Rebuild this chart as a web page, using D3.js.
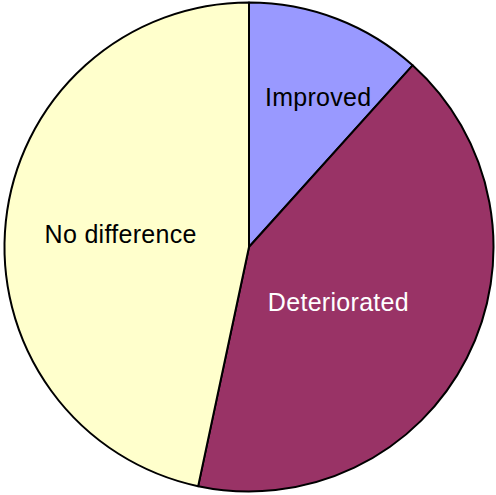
<!DOCTYPE html>
<html>
<head>
<meta charset="utf-8">
<script src="https://cdn.jsdelivr.net/npm/d3@7"></script>
<style>
  html, body { margin: 0; padding: 0; background: #fff; }
</style>
</head>
<body>
<svg id="visu" width="496" height="495"></svg>
<script>
// slice data, clockwise from 12 o'clock
var categories = ["Improved", "Deteriorated", "No difference"];
var values = [7, 25, 28];
var colors = ["#9999FF", "#993366", "#FFFFCC"];
var labelColors = ["#000000", "#FFFFFF", "#000000"];

var vis = d3.select("#visu"),
    CX = 249,
    CY = 247,
    RADIUS = 244.5;

// where each label sits: distance from centre, and a small angle nudge (deg)
var labelDist = [165, 105, 129],
    labelNudge = [3.8, 4.6, -0.2];

var pie = d3.pie()
  .sort(null)
  .value(function(d) { return d; });

var arcGen = d3.arc()
  .innerRadius(0)
  .outerRadius(RADIUS);

var slices = pie(values);

var g = vis.append("g")
  .attr("transform", "translate(" + CX + "," + CY + ")");

g.selectAll("path")
  .data(slices)
  .enter().append("path")
  .attr("d", arcGen)
  .attr("fill", function(d, i) { return colors[i]; })
  .attr("stroke", "#000")
  .attr("stroke-width", 2)
  .attr("stroke-linejoin", "round");

g.selectAll("text")
  .data(slices)
  .enter().append("text")
  .attr("x", function(d, i) {
    var a = (d.startAngle + d.endAngle) / 2 + labelNudge[i] * Math.PI / 180;
    return Math.sin(a) * labelDist[i];
  })
  .attr("y", function(d, i) {
    var a = (d.startAngle + d.endAngle) / 2 + labelNudge[i] * Math.PI / 180;
    return -Math.cos(a) * labelDist[i];
  })
  .attr("dy", "0.35em")
  .attr("text-anchor", "middle")
  .attr("font-family", "'Liberation Sans', Arial, sans-serif")
  .attr("font-size", 25)
  .attr("letter-spacing", 0.3)
  .attr("fill", function(d, i) { return labelColors[i]; })
  .text(function(d, i) { return categories[i]; });
</script>
</body>
</html>
